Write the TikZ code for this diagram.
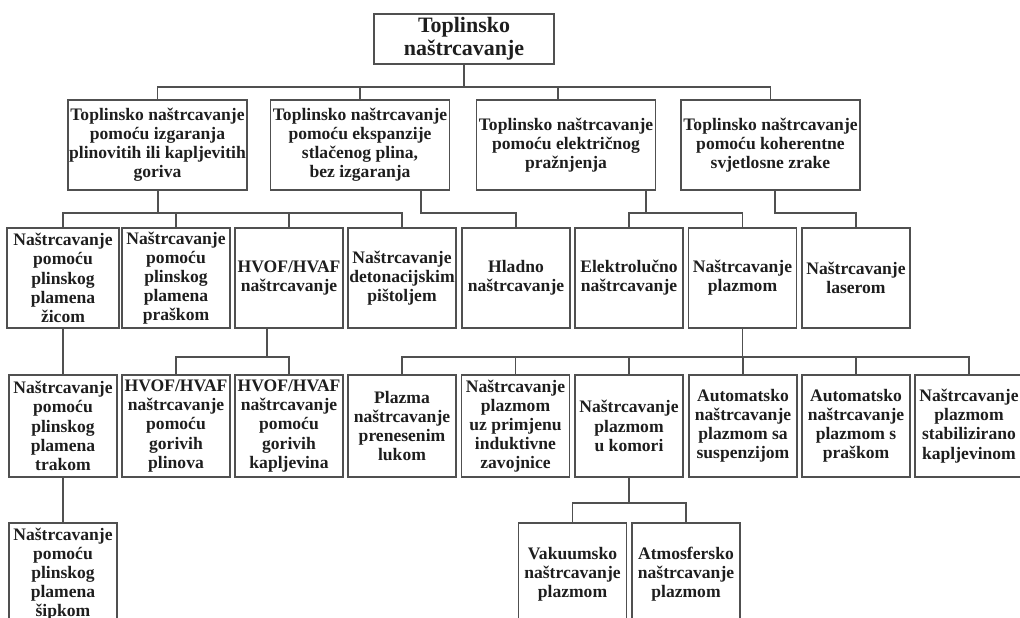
\documentclass[tikz,border=0pt]{standalone}
\usepackage{fontspec}
\setmainfont{Liberation Serif}
\definecolor{linegray}{HTML}{505050}
\definecolor{textdark}{HTML}{1E1E1E}
\begin{document}
\begin{tikzpicture}[x=0.02cm,y=-0.02cm]
\useasboundingbox (0,0) rectangle (1020,618);
\tikzset{mybox/.style={draw=linegray,line width=0.85pt,align=center,inner sep=0pt,
  text=textdark,font=\bfseries\fontsize{10}{10.9}\selectfont,
  minimum width=2.16cm,minimum height=2cm}};
\tikzset{toplevel/.style={mybox,minimum width=3.58cm,minimum height=1.8cm}};

\node[mybox,minimum width=3.6cm,minimum height=1cm,font=\bfseries\fontsize{12.5}{13.2}\selectfont]
  (root) at (464,39) {Toplinsko\\naštrcavanje};

\node[toplevel] (gorenje) at (157.5,145) {Toplinsko naštrcavanje\\pomoću izgaranja\\plinovitih ili kapljevitih\\goriva};
\node[toplevel] (ekspanzija) at (360,145) {Toplinsko naštrcavanje\\pomoću ekspanzije\\stlačenog plina,\\bez izgaranja};
\node[toplevel] (praznjenje) at (566,145) {Toplinsko naštrcavanje\\pomoću električnog\\pražnjenja};
\node[toplevel] (zraka) at (770.5,145) {Toplinsko naštrcavanje\\pomoću koherentne\\svjetlosne zrake};

\node[mybox,minimum width=2.24cm] (zicom) at (63,278) {Naštrcavanje\\pomoću\\plinskog\\plamena\\žicom};
\node[mybox] (praskom) at (176,278) {Naštrcavanje\\pomoću\\plinskog\\plamena\\praškom};
\node[mybox] (hvof) at (289,278) {HVOF/HVAF\\naštrcavanje};
\node[mybox] (detonacija) at (402,278) {Naštrcavanje\\detonacijskim\\pištoljem};
\node[mybox] (hladno) at (516,278) {Hladno\\naštrcavanje};
\node[mybox] (elektro) at (629,278) {Elektrolučno\\naštrcavanje};
\node[mybox] (plazma) at (742.5,278) {Naštrcavanje\\plazmom};
\node[mybox] (laser) at (856,278) {Naštrcavanje\\laserom};

\node[mybox,minimum height=2.04cm] (trakom) at (63,426) {Naštrcavanje\\pomoću\\plinskog\\plamena\\trakom};
\node[mybox,minimum height=2.04cm] (hvofplin) at (176,426) {HVOF/HVAF\\naštrcavanje\\pomoću\\gorivih\\plinova};
\node[mybox,minimum height=2.04cm] (hvofkap) at (289,426) {HVOF/HVAF\\naštrcavanje\\pomoću\\gorivih\\kapljevina};
\node[mybox,minimum height=2.04cm] (luk) at (402,426) {Plazma\\naštrcavanje\\prenesenim\\lukom};
\node[mybox,minimum height=2.04cm] (induk) at (515.5,426) {Naštrcavanje\\plazmom\\uz primjenu\\induktivne\\zavojnice};
\node[mybox,minimum height=2.04cm] (komora) at (629,426) {Naštrcavanje\\plazmom\\u komori};
\node[mybox,minimum height=2.04cm] (suspenzija) at (743,426) {Automatsko\\naštrcavanje\\plazmom sa\\suspenzijom};
\node[mybox,minimum height=2.04cm] (prasak) at (856,426) {Automatsko\\naštrcavanje\\plazmom s\\praškom};
\node[mybox,minimum height=2.04cm] (kapljevina) at (969,426) {Naštrcavanje\\plazmom\\stabilizirano\\kapljevinom};

\node[mybox,minimum height=2.04cm] (sipkom) at (63,574) {Naštrcavanje\\pomoću\\plinskog\\plamena\\šipkom};
\node[mybox,minimum height=2.04cm] (vakuum) at (572.5,574) {Vakuumsko\\naštrcavanje\\plazmom};
\node[mybox,minimum height=2.04cm] (atmosfera) at (686,574) {Atmosfersko\\naštrcavanje\\plazmom};

% joints of the tree
\coordinate (j0) at (464,87);
\coordinate (ja) at (158,213);
\coordinate (jb) at (421,213);
\coordinate (jc) at (646,213);
\coordinate (jd) at (775,213);
\coordinate (jh) at (267,357);
\coordinate (jp) at (743,357);
\coordinate (jk) at (629,503);
\coordinate (dpr) at (558,100);

\tikzset{link/.style={draw=linegray,line width=0.85pt}};
\path[link] (root.south) -- (j0);
\path[link] (gorenje.north) |- (zraka.north |- j0) -- (zraka.north);
\path[link] (ekspanzija.north) -- (ekspanzija.north |- j0);
\path[link] (dpr) -- (dpr |- j0);

\path[link] (ja |- gorenje.south) -- (ja);
\path[link] (zicom.north) |- (detonacija.north |- ja) -- (detonacija.north);
\path[link] (praskom.north) -- (praskom.north |- ja);
\path[link] (hvof.north) -- (hvof.north |- ja);
\path[link] (jb |- ekspanzija.south) -- (jb) -| (hladno.north);
\path[link] (jc |- praznjenje.south) -- (jc);
\path[link] (elektro.north) |- (plazma.north |- jc) -- (plazma.north);
\path[link] (jd |- zraka.south) -- (jd) -| (laser.north);

\path[link] (zicom.south) -- (trakom.north);
\path[link] (trakom.south) -- (sipkom.north);
\path[link] (jh |- hvof.south) -- (jh);
\path[link] (hvofplin.north) |- (hvofkap.north |- jh) -- (hvofkap.north);

\path[link] (plazma.south) -- (plazma.south |- jp);
\path[link] (luk.north) |- (kapljevina.north |- jp) -- (kapljevina.north);
\path[link] (induk.north) -- (induk.north |- jp);
\path[link] (komora.north) -- (komora.north |- jp);
\path[link] (suspenzija.north) -- (suspenzija.north |- jp);
\path[link] (prasak.north) -- (prasak.north |- jp);

\path[link] (komora.south) -- (komora.south |- jk);
\path[link] (vakuum.north) |- (atmosfera.north |- jk) -- (atmosfera.north);
\end{tikzpicture}
\end{document}
